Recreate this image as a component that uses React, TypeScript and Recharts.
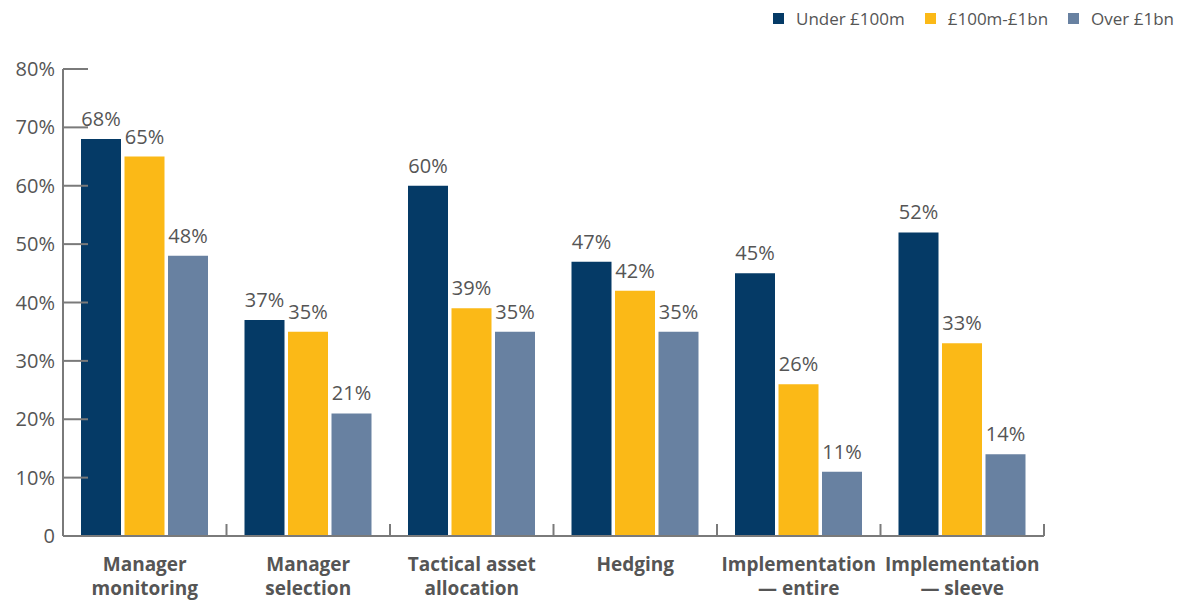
import { BarChart, Bar, XAxis, YAxis, LabelList } from 'recharts'

const categories = [
  'Manager|monitoring',
  'Manager|selection',
  'Tactical asset|allocation',
  'Hedging',
  'Implementation|— entire',
  'Implementation|— sleeve',
]
const under100m = [68, 37, 60, 47, 45, 52]
const mid100mTo1bn = [65, 35, 39, 42, 26, 33]
const over1bn = [48, 21, 35, 35, 11, 14]
const yTicks = [0, 10, 20, 30, 40, 50, 60, 70, 80]

const series = [
  { key: 'under', name: 'Under £100m', color: '#053a66', values: under100m },
  { key: 'mid', name: '£100m-£1bn', color: '#fbb917', values: mid100mTo1bn },
  { key: 'over', name: 'Over £1bn', color: '#6881a1', values: over1bn },
]

const data = categories.map((c, i) => ({
  label: c,
  under: under100m[i],
  mid: mid100mTo1bn[i],
  over: over1bn[i],
}))

const FONT = '"Open Sans", sans-serif'
const TEXT = '#555555'
const AXIS = '#7a7a7a'
const BAND = (1044 - 63) / categories.length

// y ticks: label on the left, tick mark drawn inward from the axis
const YTick = (props: any) => {
  const { x, y, payload } = props
  return (
    <g>
      <line x1={x + 8} x2={x + 33} y1={y} y2={y} stroke={AXIS} strokeWidth={2} />
      <text x={x} y={y} dy={7} textAnchor="end" fill={TEXT} fontSize={20} fontFamily={FONT}>
        {payload.value === 0 ? '0' : `${payload.value}%`}
      </text>
    </g>
  )
}

// x ticks: two-line bold label, small upward tick at right edge of each band
const XTick = (props: any) => {
  const { x, y, payload } = props
  const lines = String(payload.value).split('|')
  const right = x + BAND / 2
  return (
    <g>
      <line x1={right} x2={right} y1={536} y2={524} stroke={AXIS} strokeWidth={2} />
      <text textAnchor="middle" fill={TEXT} fontSize={19} fontWeight="bold" fontFamily={FONT}>
        {lines.map((l, i) => (
          <tspan key={i} x={x} y={y + 27 + i * 24}>{l}</tspan>
        ))}
      </text>
    </g>
  )
}

export default function App() {
  return (
    <div style={{ position: 'absolute', left: 0, top: 0, width: 1188, height: 601, background: '#fff' }}>
      <div style={{ position: 'absolute', top: 7, right: 14, display: 'flex', gap: 20, fontFamily: FONT, fontSize: 17, color: TEXT }}>
        {series.map((s) => (
          <div key={s.key} style={{ display: 'flex', alignItems: 'center' }}>
            <span style={{ width: 11, height: 11, background: s.color, marginRight: 12, display: 'inline-block' }} />
            {s.name}
          </div>
        ))}
      </div>
      <BarChart
        width={1188}
        height={601}
        data={data}
        margin={{ top: 69, right: 144, bottom: 5, left: 0 }}
        barSize={40}
        barGap={3.5}
      >
        <XAxis
          dataKey="label"
          interval={0}
          height={60}
          axisLine={{ stroke: AXIS, strokeWidth: 2 }}
          tickLine={false}
          tick={<XTick />}
        />
        <YAxis
          domain={[0, 80]}
          ticks={yTicks}
          width={63}
          tickSize={0}
          tickMargin={8}
          axisLine={{ stroke: AXIS, strokeWidth: 2 }}
          tickLine={false}
          tick={<YTick />}
        />
        {series.map((s) => (
          <Bar key={s.key} dataKey={s.key} name={s.name} fill={s.color} isAnimationActive={false}>
            <LabelList
              dataKey={s.key}
              position="top"
              offset={13}
              formatter={(v: any) => `${v}%`}
              style={{ fill: TEXT, fontSize: 20, fontFamily: FONT }}
            />
          </Bar>
        ))}
      </BarChart>
    </div>
  )
}
